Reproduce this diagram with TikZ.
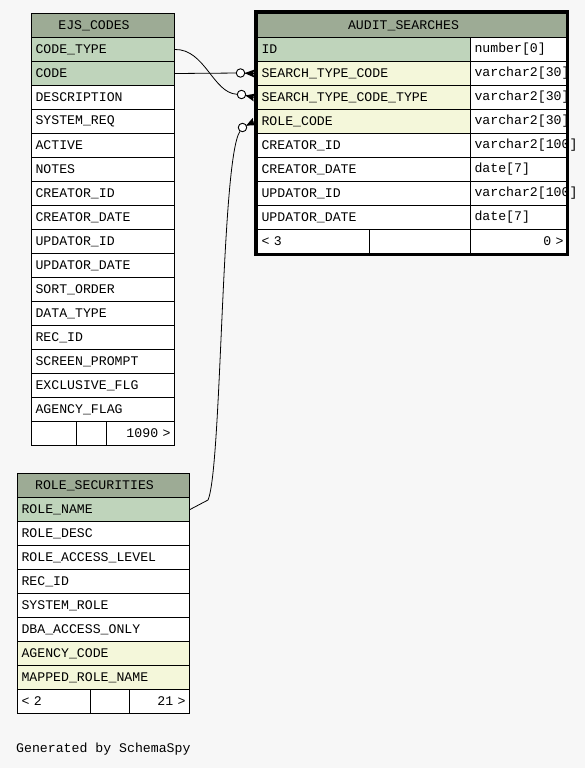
\documentclass[tikz,border=0pt]{standalone}
\usepackage{fontspec}
\setmonofont{Liberation Mono}
\usetikzlibrary{calc}
\definecolor{bg}{HTML}{F7F7F7}
\definecolor{hdr}{HTML}{9DAB95}
\definecolor{pk}{HTML}{BFD4BB}
\definecolor{fk}{HTML}{F4F7DA}
\begin{document}
\begin{tikzpicture}[x=1pt,y=-1pt,
  every node/.style={font=\ttfamily\fontsize{13.2}{15}\selectfont},
  cell/.style={draw=black, line width=1pt, anchor=north west, minimum height=24pt,
    inner xsep=4pt, inner ysep=0pt, align=left, fill=white},
  hdrcell/.style={cell, fill=hdr},
  pkcell/.style={cell, fill=pk},
  fkcell/.style={cell, fill=fk},
  rcell/.style={cell, align=right},
  ejsw/.style={text width=135pt},
  rsw/.style={text width=164pt},
  saname/.style={text width=205pt},
  satype/.style={text width=89pt},
  title/.style={anchor=center, inner sep=0pt},
  conn/.style={draw=black, line width=0.8pt},
  fkcirc/.style={circle, draw=black, line width=0.9pt, fill=white, minimum size=8.5pt, inner sep=0pt}
]
\useasboundingbox (0,0) rectangle (585,768);
\fill[bg] (0,0) rectangle (585,768);

% ---------------- EJS_CODES ----------------
\node[hdrcell, ejsw] (ejs-h) at (31,13) {};
\node[title] (ejs-title) at ($(ejs-h.center)+(-9,0)$) {EJS\_CODES};
\node[pkcell, ejsw] (ejs-ct) at (31,37) {CODE\_TYPE};
\node[pkcell, ejsw] (ejs-code) at (31,61) {CODE};
\node[cell, ejsw] (ejs-r3) at (31,85) {DESCRIPTION};
\node[cell, ejsw] (ejs-r4) at (31,109) {SYSTEM\_REQ};
\node[cell, ejsw] (ejs-r5) at (31,133) {ACTIVE};
\node[cell, ejsw] (ejs-r6) at (31,157) {NOTES};
\node[cell, ejsw] (ejs-r7) at (31,181) {CREATOR\_ID};
\node[cell, ejsw] (ejs-r8) at (31,205) {CREATOR\_DATE};
\node[cell, ejsw] (ejs-r9) at (31,229) {UPDATOR\_ID};
\node[cell, ejsw] (ejs-r10) at (31,253) {UPDATOR\_DATE};
\node[cell, ejsw] (ejs-r11) at (31,277) {SORT\_ORDER};
\node[cell, ejsw] (ejs-r12) at (31,301) {DATA\_TYPE};
\node[cell, ejsw] (ejs-r13) at (31,325) {REC\_ID};
\node[cell, ejsw] (ejs-r14) at (31,349) {SCREEN\_PROMPT};
\node[cell, ejsw] (ejs-r15) at (31,373) {EXCLUSIVE\_FLG};
\node[cell, ejsw] (ejs-r16) at (31,397) {AGENCY\_FLAG};
\node[cell, text width=37pt] (ejs-f1) at (31,421) {};
\node[cell, text width=22pt] (ejs-f2) at (76,421) {};
\node[rcell, text width=60pt] (ejs-f3) at (106,421) {1090 >};

% ---------------- AUDIT_SEARCHES ----------------
\node[hdrcell, text width=302pt] (sa-h) at (257,13) {};
\node[title] (sa-title) at ($(sa-h.center)+(-9,0)$) {AUDIT\_SEARCHES};
\node[pkcell, saname] (sa-id) at (257,37) {ID};
\node[cell, satype] (sa-idt) at (470,37) {number[0]};
\node[fkcell, saname] (sa-stc) at (257,61) {SEARCH\_TYPE\_CODE};
\node[cell, satype] (sa-stct) at (470,61) {varchar2[30]};
\node[fkcell, saname] (sa-sttc) at (257,85) {SEARCH\_TYPE\_CODE\_TYPE};
\node[cell, satype] (sa-sttct) at (470,85) {varchar2[30]};
\node[fkcell, saname] (sa-role) at (257,109) {ROLE\_CODE};
\node[cell, satype] (sa-rolet) at (470,109) {varchar2[30]};
\node[cell, saname] (sa-cid) at (257,133) {CREATOR\_ID};
\node[cell, satype] (sa-cidt) at (470,133) {varchar2[100]};
\node[cell, saname] (sa-cd) at (257,157) {CREATOR\_DATE};
\node[cell, satype] (sa-cdt) at (470,157) {date[7]};
\node[cell, saname] (sa-uid) at (257,181) {UPDATOR\_ID};
\node[cell, satype] (sa-uidt) at (470,181) {varchar2[100]};
\node[cell, saname] (sa-ud) at (257,205) {UPDATOR\_DATE};
\node[cell, satype] (sa-udt) at (470,205) {date[7]};
\node[cell, text width=104pt] (sa-f1) at (257,229) {< 3};
\node[cell, text width=93pt] (sa-f2) at (369,229) {};
\node[rcell, text width=89pt] (sa-f3) at (470,229) {0 >};
\draw[line width=3pt] (255.5,11.5) rectangle (567.5,254.5);

% ---------------- ROLE_SECURITIES ----------------
\node[hdrcell, rsw] (rs-h) at (17,473) {};
\node[title] (rs-title) at ($(rs-h.center)+(-9,0)$) {ROLE\_SECURITIES};
\node[pkcell, rsw] (rs-name) at (17,497) {ROLE\_NAME};
\node[cell, rsw] (rs-r2) at (17,521) {ROLE\_DESC};
\node[cell, rsw] (rs-r3) at (17,545) {ROLE\_ACCESS\_LEVEL};
\node[cell, rsw] (rs-r4) at (17,569) {REC\_ID};
\node[cell, rsw] (rs-r5) at (17,593) {SYSTEM\_ROLE};
\node[cell, rsw] (rs-r6) at (17,617) {DBA\_ACCESS\_ONLY};
\node[fkcell, rsw] (rs-r7) at (17,641) {AGENCY\_CODE};
\node[fkcell, rsw] (rs-r8) at (17,665) {MAPPED\_ROLE\_NAME};
\node[cell, text width=65pt] (rs-f1) at (17,689) {< 2};
\node[cell, text width=31pt] (rs-f2) at (90,689) {};
\node[rcell, text width=52pt] (rs-f3) at (129,689) {21 >};

% ---------------- connectors ----------------
\node[fkcirc] (c1) at (241.5,94.5) {};
\node[fkcirc] (c2) at (240.5,73) {};
\node[fkcirc] (c3) at (242.5,127.5) {};
\coordinate (t1) at ($(sa-sttc.west)+(-2.5,0)$);
\coordinate (t2) at ($(sa-stc.west)+(-2.5,0)$);
\coordinate (t3) at ($(sa-role.west)+(-2.5,0)$);

\draw[conn] (ejs-ct.east) .. controls (205,49) and (213,93) .. (c1);
\draw[conn] (ejs-code.east) -- (c2);
\draw[conn] (rs-name.east) -- (208,500) .. controls (222,468) and (221,160) .. (c3);

\foreach \c/\t in {c1/t1, c2/t2, c3/t3}{
  \draw[conn] (\c) -- (\t);
  \fill ($(\c)!4pt!(\t)$) -- ($(\t)!4pt!90:(\c)$) -- ($(\t)!1.5pt!(\c)$) -- ($(\t)!4pt!-90:(\c)$) -- cycle;
}

\node[anchor=base west, inner sep=0pt] (gen) at (16,752) {Generated by SchemaSpy};
\end{tikzpicture}
\end{document}
